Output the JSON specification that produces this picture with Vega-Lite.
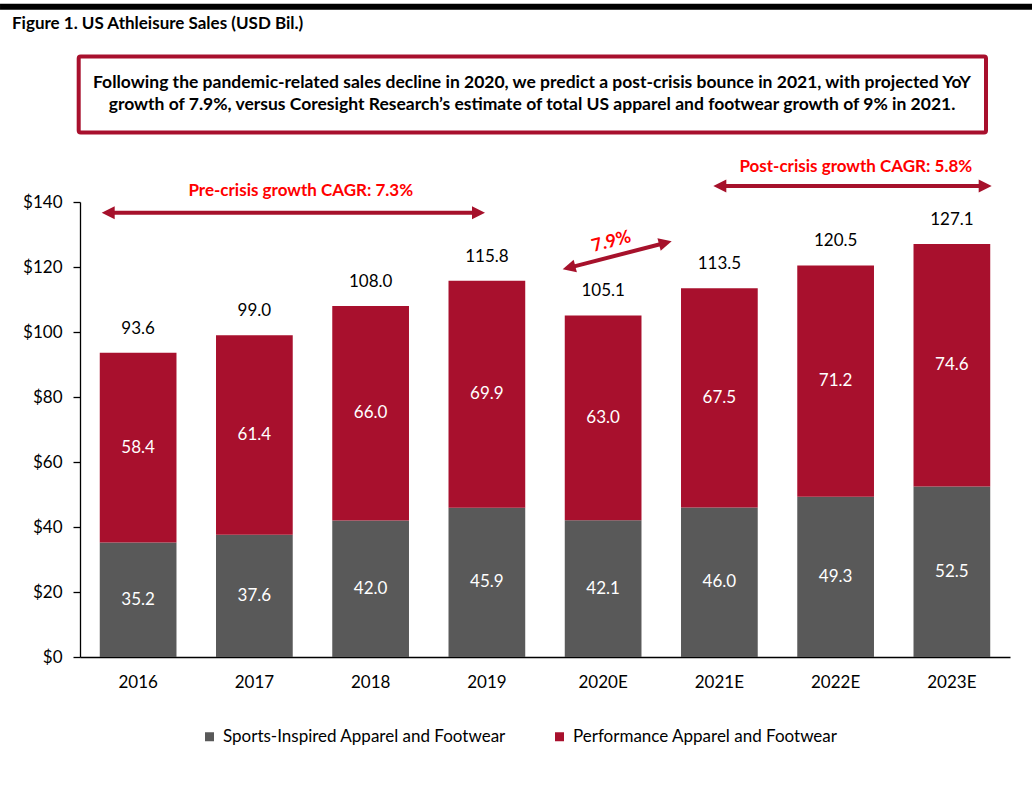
{
  "$schema": "https://vega.github.io/schema/vega-lite/v6.json",
  "width": 930,
  "height": 455,
  "autosize": {"type": "none"},
  "padding": {"left": 80, "top": 202, "right": 22, "bottom": 138},
  "background": "white",
  "config": {"view": {"stroke": null}, "font": "Lato"},
  "datasets": {
    "sales": [
      {"year": "2016", "segment": "Sports-Inspired Apparel and Footwear", "rank": 1, "value": 35.2},
      {"year": "2016", "segment": "Performance Apparel and Footwear", "rank": 2, "value": 58.4},
      {"year": "2017", "segment": "Sports-Inspired Apparel and Footwear", "rank": 1, "value": 37.6},
      {"year": "2017", "segment": "Performance Apparel and Footwear", "rank": 2, "value": 61.4},
      {"year": "2018", "segment": "Sports-Inspired Apparel and Footwear", "rank": 1, "value": 42.0},
      {"year": "2018", "segment": "Performance Apparel and Footwear", "rank": 2, "value": 66.0},
      {"year": "2019", "segment": "Sports-Inspired Apparel and Footwear", "rank": 1, "value": 45.9},
      {"year": "2019", "segment": "Performance Apparel and Footwear", "rank": 2, "value": 69.9},
      {"year": "2020E", "segment": "Sports-Inspired Apparel and Footwear", "rank": 1, "value": 42.1},
      {"year": "2020E", "segment": "Performance Apparel and Footwear", "rank": 2, "value": 63.0},
      {"year": "2021E", "segment": "Sports-Inspired Apparel and Footwear", "rank": 1, "value": 46.0},
      {"year": "2021E", "segment": "Performance Apparel and Footwear", "rank": 2, "value": 67.5},
      {"year": "2022E", "segment": "Sports-Inspired Apparel and Footwear", "rank": 1, "value": 49.3},
      {"year": "2022E", "segment": "Performance Apparel and Footwear", "rank": 2, "value": 71.2},
      {"year": "2023E", "segment": "Sports-Inspired Apparel and Footwear", "rank": 1, "value": 52.5},
      {"year": "2023E", "segment": "Performance Apparel and Footwear", "rank": 2, "value": 74.6}
    ],
    "frame": [
      {"part": "topbar", "x": -0.086, "x2": 1.0237, "y": 200.1, "y2": 200.1},
      {"part": "box", "x": -0.0014, "x2": 0.9742, "y": 184.8, "y2": 161.4}
    ],
    "shafts": [
      {"arrow": "pre", "x": 0.0319, "x2": 0.4269, "y": 136.7, "y2": 136.7},
      {"arrow": "post", "x": 0.6895, "x2": 0.9717, "y": 144.9, "y2": 144.9},
      {"arrow": "diag", "x": 0.5273, "x2": 0.6279, "y": 119.9, "y2": 127.3}
    ],
    "heads": [
      {"arrow": "pre", "end": "L", "x": 0.0233, "y": 136.7},
      {"arrow": "pre", "end": "R", "x": 0.4355, "y": 136.7},
      {"arrow": "post", "end": "L", "x": 0.681, "y": 144.9},
      {"arrow": "post", "end": "R", "x": 0.9803, "y": 144.9},
      {"arrow": "diag", "end": "L", "x": 0.519, "y": 119.29},
      {"arrow": "diag", "end": "R", "x": 0.6362, "y": 127.91}
    ],
    "notes": [
      {"kind": "title", "x": -0.0731, "y": 194.9, "text": "Figure 1. US Athleisure Sales (USD Bil.)"},
      {"kind": "box", "x": 0.486, "y": 176.6, "text": "Following the pandemic-related sales decline in 2020, we predict a post-crisis bounce in 2021, with projected YoY"},
      {"kind": "box", "x": 0.486, "y": 169.75, "text": "growth of 7.9%, versus Coresight Research’s estimate of total US apparel and footwear growth of 9% in 2021."},
      {"kind": "label", "x": 0.2374, "y": 143.4, "text": "Pre-crisis growth CAGR: 7.3%"},
      {"kind": "label", "x": 0.8342, "y": 150.8, "text": "Post-crisis growth CAGR: 5.8%"},
      {"kind": "slope", "x": 0.5715, "y": 127.7, "text": "7.9%"}
    ]
  },
  "layer": [
    {
      "data": {"name": "sales"},
      "layer": [
        {
          "transform": [
            {"stack": "value", "groupby": ["year"], "sort": [{"field": "rank", "order": "ascending"}], "as": ["v0", "v1"]}
          ],
          "mark": {"type": "bar", "clip": false},
          "encoding": {
            "x": {
              "field": "year", "type": "ordinal", "title": null,
              "scale": {"paddingInner": 0.34, "paddingOuter": 0.17},
              "axis": {"labelAngle": 0, "labelFontSize": 17, "labelColor": "#000000", "ticks": false, "tickSize": 0, "labelPadding": 17, "domainColor": "#000000", "domainWidth": 1.3, "grid": false}
            },
            "y": {
              "field": "v1", "type": "quantitative", "title": null,
              "scale": {"domain": [0, 140], "nice": false, "zero": true},
              "axis": {"values": [0, 20, 40, 60, 80, 100, 120, 140], "format": "$,.0f", "labelFontSize": 17, "labelColor": "#000000", "domainColor": "#000000", "domainWidth": 1.3, "tickColor": "#000000", "tickWidth": 1.3, "tickSize": 7, "labelPadding": 11, "grid": false}
            },
            "y2": {"field": "v0"},
            "color": {
              "field": "segment", "type": "nominal",
              "scale": {"domain": ["Sports-Inspired Apparel and Footwear", "Performance Apparel and Footwear"], "range": ["#595959", "#A8102D"]},
              "legend": {"title": null, "orient": "none", "legendX": 121, "legendY": 526, "direction": "horizontal", "symbolType": "square", "symbolSize": 81, "symbolStrokeWidth": 0, "labelFontSize": 17, "labelColor": "#000000", "labelLimit": 500, "labelOffset": 5, "columnPadding": 45}
            }
          }
        },
        {
          "transform": [
            {"stack": "value", "groupby": ["year"], "sort": [{"field": "rank", "order": "ascending"}], "as": ["v0", "v1"]},
            {"calculate": "(datum.v0 + datum.v1) / 2", "as": "mid"}
          ],
          "mark": {"type": "text", "color": "#FFFFFF", "fontSize": 17, "baseline": "middle", "align": "center", "clip": false},
          "encoding": {
            "x": {"field": "year", "type": "ordinal"},
            "y": {"field": "mid", "type": "quantitative"},
            "text": {"field": "value", "type": "quantitative", "format": ".1f"}
          }
        },
        {
          "transform": [
            {"aggregate": [{"op": "sum", "field": "value", "as": "total"}], "groupby": ["year"]}
          ],
          "mark": {"type": "text", "color": "#000000", "fontSize": 17, "baseline": "middle", "align": "center", "dy": -24, "clip": false},
          "encoding": {
            "x": {"field": "year", "type": "ordinal"},
            "y": {"field": "total", "type": "quantitative"},
            "text": {"field": "total", "type": "quantitative", "format": ".1f"}
          }
        }
      ]
    },
    {
      "encoding": {
        "x": {"field": "x", "type": "quantitative", "scale": {"domain": [0, 1], "nice": false, "zero": false}, "axis": null},
        "y": {"field": "y", "type": "quantitative", "scale": {"domain": [0, 140], "nice": false, "zero": false}, "axis": null}
      },
      "layer": [
        {
          "data": {"name": "frame"},
          "transform": [{"filter": "datum.part === 'topbar'"}],
          "mark": {"type": "rule", "color": "#000000", "strokeWidth": 6, "clip": false},
          "encoding": {"x2": {"field": "x2"}, "y2": {"field": "y2"}}
        },
        {
          "data": {"name": "frame"},
          "transform": [{"filter": "datum.part === 'box'"}],
          "mark": {"type": "rect", "fill": "#FFFFFF", "fillOpacity": 0, "stroke": "#A8102D", "strokeWidth": 4, "cornerRadius": 2, "clip": false},
          "encoding": {"x2": {"field": "x2"}, "y2": {"field": "y2"}}
        },
        {
          "data": {"name": "shafts"},
          "mark": {"type": "rule", "color": "#A6112B", "strokeWidth": 4, "clip": false},
          "encoding": {"x2": {"field": "x2"}, "y2": {"field": "y2"}}
        },
        {
          "data": {"name": "heads"},
          "transform": [{"filter": "datum.arrow !== 'diag' && datum.end === 'R'"}],
          "mark": {"type": "point", "shape": "M0,0L-2,-1L-2,1Z", "size": 169, "filled": true, "color": "#A6112B", "opacity": 1, "angle": 0, "clip": false},
          "encoding": {}
        },
        {
          "data": {"name": "heads"},
          "transform": [{"filter": "datum.arrow !== 'diag' && datum.end === 'L'"}],
          "mark": {"type": "point", "shape": "M0,0L-2,-1L-2,1Z", "size": 169, "filled": true, "color": "#A6112B", "opacity": 1, "angle": 180, "clip": false},
          "encoding": {}
        },
        {
          "data": {"name": "heads"},
          "transform": [{"filter": "datum.arrow === 'diag' && datum.end === 'R'"}],
          "mark": {"type": "point", "shape": "M0,0L-2,-1L-2,1Z", "size": 169, "filled": true, "color": "#A6112B", "opacity": 1, "angle": 345.6, "clip": false},
          "encoding": {}
        },
        {
          "data": {"name": "heads"},
          "transform": [{"filter": "datum.arrow === 'diag' && datum.end === 'L'"}],
          "mark": {"type": "point", "shape": "M0,0L-2,-1L-2,1Z", "size": 169, "filled": true, "color": "#A6112B", "opacity": 1, "angle": 165.6, "clip": false},
          "encoding": {}
        },
        {
          "data": {"name": "notes"},
          "transform": [{"filter": "datum.kind === 'title'"}],
          "mark": {"type": "text", "align": "left", "baseline": "middle", "fontSize": 17, "fontWeight": "bold", "color": "#000000", "clip": false},
          "encoding": {"text": {"field": "text"}}
        },
        {
          "data": {"name": "notes"},
          "transform": [{"filter": "datum.kind === 'box'"}],
          "mark": {"type": "text", "align": "center", "baseline": "middle", "fontSize": 17.5, "fontWeight": "bold", "color": "#000000", "clip": false},
          "encoding": {"text": {"field": "text"}}
        },
        {
          "data": {"name": "notes"},
          "transform": [{"filter": "datum.kind === 'label'"}],
          "mark": {"type": "text", "align": "center", "baseline": "middle", "fontSize": 17, "fontWeight": "bold", "color": "#FF0000", "clip": false},
          "encoding": {"text": {"field": "text"}}
        },
        {
          "data": {"name": "notes"},
          "transform": [{"filter": "datum.kind === 'slope'"}],
          "mark": {"type": "text", "align": "center", "baseline": "middle", "fontSize": 18, "fontWeight": "bold", "color": "#FF0000", "angle": 345, "clip": false},
          "encoding": {"text": {"field": "text"}}
        }
      ]
    }
  ],
  "resolve": {"scale": {"x": "independent", "y": "independent"}}
}
